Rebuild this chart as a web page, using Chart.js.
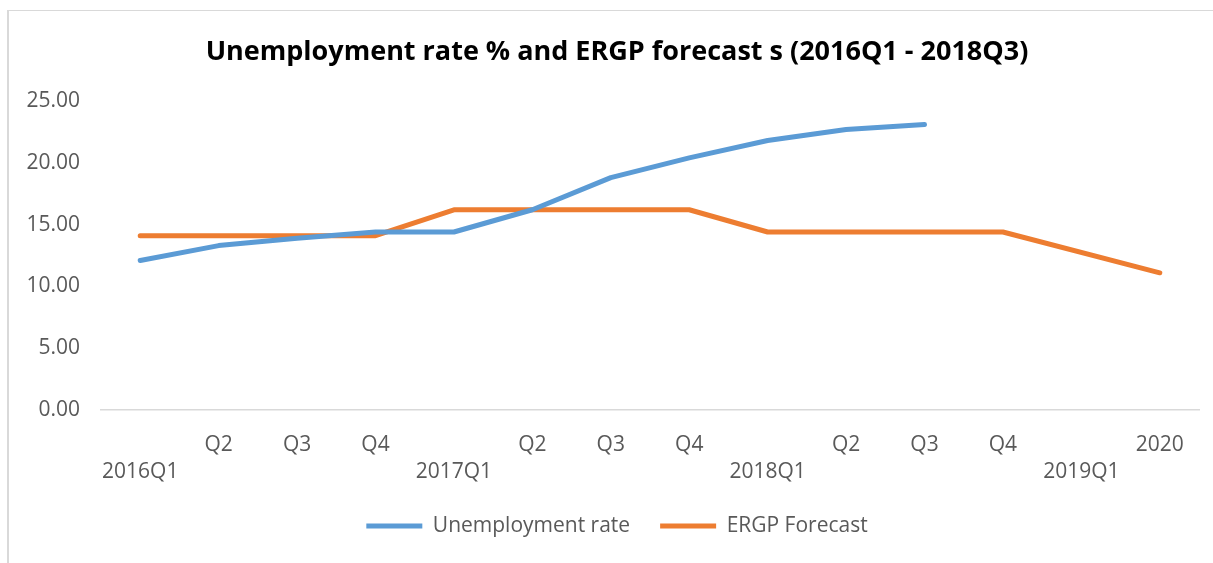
<!DOCTYPE html>
<html>
<head>
<meta charset="utf-8">
<script src="https://cdn.jsdelivr.net/npm/chart.js@4/dist/chart.umd.min.js"></script>
<style>
  html, body { margin: 0; padding: 0; background: #fff; }
  #wrap { position: relative; width: 1213px; height: 563px; }
  #frame { position: absolute; left: 7px; top: 10px; right: 0; bottom: 0;
           border-left: 2px solid #d9d9d9; border-top: 1px solid #d9d9d9; pointer-events: none; }
  canvas { position: absolute; left: 0; top: 0; }
</style>
</head>
<body>
<div id="wrap">
  <canvas id="c" width="1213" height="563"></canvas>
  <div id="frame"></div>
</div>
<script>
const categories = [
  ['', '2016Q1'], ['Q2'], ['Q3'], ['Q4'],
  ['', '2017Q1'], ['Q2'], ['Q3'], ['Q4'],
  ['', '2018Q1'], ['Q2'], ['Q3'], ['Q4'],
  ['', '2019Q1'], ['2020']
];
const unemploymentRate = [12.1, 13.3, 13.9, 14.4, 14.4, 16.2, 18.8, 20.4, 21.8, 22.7, 23.1, null, null, null];
const ergpForecast = [14.1, 14.1, 14.1, 14.1, 16.2, 16.2, 16.2, 16.2, 14.4, 14.4, 14.4, 14.4, null, 11.1];
const yTicks = [0, 5, 10, 15, 20, 25];

const FONT = "'Open Sans', 'Liberation Sans', sans-serif";

// shift the title and legend boxes so they centre where the reference does
const centreShift = {
  id: 'centreShift',
  afterLayout(chart) {
    if (chart.titleBlock) chart.titleBlock.left += 35;
    if (chart.legend) chart.legend.left += 35;
  }
};

new Chart(document.getElementById('c'), {
  type: 'line',
  plugins: [centreShift],
  data: {
    labels: categories,
    datasets: [
      {
        label: 'Unemployment rate',
        data: unemploymentRate,
        borderColor: '#5b9bd5',
        backgroundColor: '#5b9bd5',
        borderWidth: 5,
        borderCapStyle: 'round',
        borderJoinStyle: 'round',
        pointRadius: 0,
        pointHoverRadius: 0,
        tension: 0,
        spanGaps: false
      },
      {
        label: 'ERGP Forecast',
        data: ergpForecast,
        borderColor: '#ed7d31',
        backgroundColor: '#ed7d31',
        borderWidth: 5,
        borderCapStyle: 'round',
        borderJoinStyle: 'round',
        pointRadius: 0,
        pointHoverRadius: 0,
        tension: 0,
        spanGaps: true
      }
    ]
  },
  options: {
    responsive: false,
    animation: false,
    layout: { padding: { left: 0, right: 14, top: 0, bottom: 16.5 } },
    plugins: {
      tooltip: { enabled: false },
      title: {
        display: true,
        text: 'Unemployment rate % and ERGP forecast s (2016Q1 - 2018Q3)',
        color: '#000000',
        font: { family: FONT, size: 27, weight: 'bold' },
        padding: { top: 36, bottom: 32.6 }
      },
      legend: {
        position: 'bottom',
        labels: {
          color: '#595959',
          font: { family: FONT, size: 21 },
          usePointStyle: true,
          pointStyle: 'line',
          pointStyleWidth: 56,
          boxHeight: 21,
          padding: 30
        }
      }
    },
    scales: {
      x: {
        offset: true,
        grid: { display: false, drawTicks: false, offset: true },
        border: { display: true, color: '#d9d9d9', width: 1.5 },
        ticks: {
          color: '#595959',
          font: { family: FONT, size: 21, lineHeight: '27px' },
          maxRotation: 0,
          autoSkip: false,
          padding: 21.5
        },
        afterFit: (s) => { s.height = 75.5; }
      },
      y: {
        min: 0,
        max: 25,
        afterBuildTicks: (s) => { s.ticks = yTicks.map(v => ({ value: v })); },
        grid: { display: false, drawTicks: false },
        border: { display: false },
        ticks: {
          color: '#595959',
          font: { family: FONT, size: 21 },
          padding: 21,
          callback: (v) => Number(v).toFixed(2)
        },
        afterFit: (s) => { s.width = 101; }
      }
    }
  }
});
</script>
</body>
</html>
